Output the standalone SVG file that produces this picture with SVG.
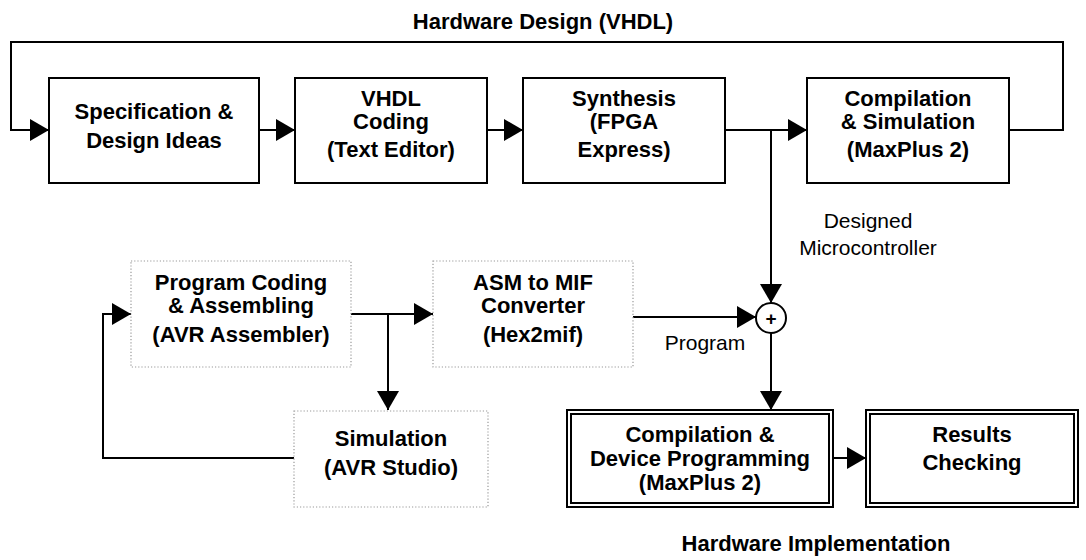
<svg xmlns="http://www.w3.org/2000/svg" width="1086" height="560" viewBox="0 0 1086 560">
<style>
.box{fill:#fff;stroke:#000;stroke-width:2}
.dot{fill:#fff;stroke:#999;stroke-width:1.2;stroke-dasharray:1.2 2}
.b{font-family:"Liberation Sans",Arial,sans-serif;font-weight:bold;font-size:22px;text-anchor:middle;fill:#000}
.r{font-family:"Liberation Sans",Arial,sans-serif;font-size:21px;text-anchor:middle;fill:#000}
.ln{fill:none;stroke:#000;stroke-width:2}
</style>
<defs>
<marker id="ah" markerUnits="userSpaceOnUse" markerWidth="19" markerHeight="22" refX="19" refY="11" orient="auto" viewBox="0 0 19 22">
<path d="M0,0 L19,11 L0,22 z" fill="#000"/>
</marker>
</defs>
<text class="b" x="543" y="29">Hardware Design (VHDL)</text>
<text class="b" x="816" y="551">Hardware Implementation</text>
<g id="connectors">
<path class="ln" d="M1009,130 H1063 V42 H11 V130 H49" marker-end="url(#ah)"/>
<path class="ln" d="M259,130 H295" marker-end="url(#ah)"/>
<path class="ln" d="M487,130 H523" marker-end="url(#ah)"/>
<path class="ln" d="M725,130 H807" marker-end="url(#ah)"/>
<path class="ln" d="M771,130 V303" marker-end="url(#ah)"/>
<path class="ln" d="M633,317 H756" marker-end="url(#ah)"/>
<path class="ln" d="M771,333 V410" marker-end="url(#ah)"/>
<path class="ln" d="M351,314 H433" marker-end="url(#ah)"/>
<path class="ln" d="M388,314 V410" marker-end="url(#ah)"/>
<path class="ln" d="M294,458 H103 V314 H131" marker-end="url(#ah)"/>
<path class="ln" d="M833,458 H866" marker-end="url(#ah)"/>
<text class="r" x="868" y="228">Designed</text>
<text class="r" x="868" y="255">Microcontroller</text>
<text class="r" x="705" y="350">Program</text>
</g>
<g id="plus">
<circle cx="771" cy="318" r="15" fill="#fff" stroke="#000" stroke-width="2"/>
<text x="771" y="325" font-family="Liberation Sans,Arial,sans-serif" font-weight="bold" font-size="19" text-anchor="middle">+</text>
</g>
<g id="spec">
<rect class="box" x="49" y="78" width="210" height="105"/>
<text class="b" x="154" y="119">Specification &amp;</text>
<text class="b" x="154" y="148">Design Ideas</text>
</g>
<g id="vhdl">
<rect class="box" x="295" y="78" width="192" height="105"/>
<text class="b" x="391" y="106">VHDL</text>
<text class="b" x="391" y="129">Coding</text>
<text class="b" x="391" y="157">(Text Editor)</text>
</g>
<g id="synth">
<rect class="box" x="523" y="78" width="202" height="105"/>
<text class="b" x="624" y="106">Synthesis</text>
<text class="b" x="624" y="129">(FPGA</text>
<text class="b" x="624" y="157">Express)</text>
</g>
<g id="compsim">
<rect class="box" x="807" y="78" width="202" height="105"/>
<text class="b" x="908" y="106">Compilation</text>
<text class="b" x="908" y="129">&amp; Simulation</text>
<text class="b" x="908" y="157">(MaxPlus 2)</text>
</g>
<g id="progcode">
<rect class="dot" x="131" y="261" width="220" height="106"/>
<text class="b" x="241" y="290">Program Coding</text>
<text class="b" x="241" y="313">&amp; Assembling</text>
<text class="b" x="241" y="342">(AVR Assembler)</text>
</g>
<g id="asm">
<rect class="dot" x="433" y="261" width="200" height="106"/>
<text class="b" x="533" y="290">ASM to MIF</text>
<text class="b" x="533" y="313">Converter</text>
<text class="b" x="533" y="342">(Hex2mif)</text>
</g>
<g id="avrsim">
<rect class="dot" x="294" y="411" width="194" height="96"/>
<text class="b" x="391" y="446">Simulation</text>
<text class="b" x="391" y="475">(AVR Studio)</text>
</g>
<g id="devprog">
<rect class="box" x="567" y="410" width="266" height="97"/>
<rect class="box" x="571" y="414" width="258" height="89"/>
<text class="b" x="700" y="442">Compilation &amp;</text>
<text class="b" x="700" y="466">Device Programming</text>
<text class="b" x="700" y="490">(MaxPlus 2)</text>
</g>
<g id="results">
<rect class="box" x="866" y="410" width="212" height="97"/>
<rect class="box" x="870" y="414" width="204" height="89"/>
<text class="b" x="972" y="442">Results</text>
<text class="b" x="972" y="470">Checking</text>
</g>
</svg>
